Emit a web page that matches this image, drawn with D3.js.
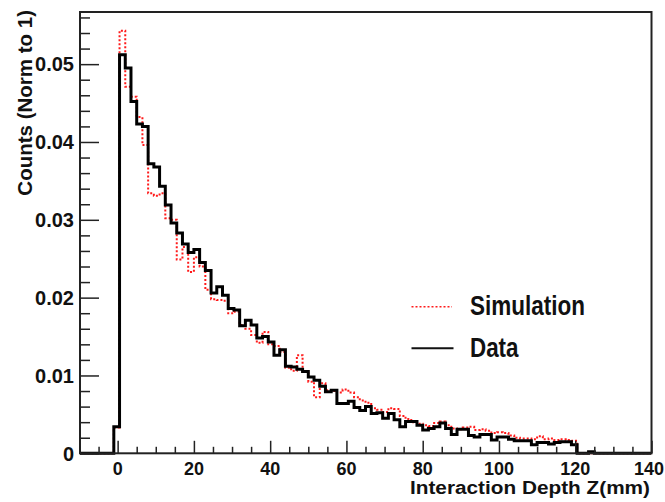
<!DOCTYPE html>
<html>
<head>
<meta charset="utf-8">
<script src="https://cdn.jsdelivr.net/npm/d3@7"></script>
<style>
  html, body { margin: 0; padding: 0; background: #fff; }
  #depth-chart text { font-family: "Liberation Sans", Arial, sans-serif; font-weight: bold; fill: #111; }
</style>
</head>
<body>
<div id="depth-chart"></div>
<script>
// histogram binning: 100 bins from -10 to 140 mm
var binLo = -10;
var binWidth = 1.5;
var nBins = 100;
var firstBin = 6; // first listed bin starts at -1 mm

var dataCounts = [
  0.0034, 0.0512, 0.0495, 0.0452, 0.0423, 0.0420, 0.0372, 0.0368, 0.0343, 0.0319,
  0.0296, 0.0283, 0.0269, 0.0258, 0.0262, 0.0245, 0.0235, 0.0206, 0.0214, 0.0203,
  0.0186, 0.0184, 0.0164, 0.0171, 0.0165, 0.0148, 0.0150, 0.0143, 0.0126, 0.0133,
  0.0112, 0.0111, 0.0108, 0.0105, 0.0098, 0.0094, 0.0086, 0.0079, 0.0081, 0.0064,
  0.0064, 0.0067, 0.0059, 0.0055, 0.0060, 0.0051, 0.0052, 0.0045, 0.0051, 0.0043,
  0.0034, 0.0041, 0.0041, 0.0036, 0.0030, 0.0032, 0.0034, 0.0039, 0.0032, 0.0024,
  0.0031, 0.0031, 0.0023, 0.0021, 0.0024, 0.0024, 0.0017, 0.0021, 0.0021, 0.0018,
  0.0016, 0.0016, 0.0016, 0.0011, 0.0014, 0.0014, 0.0012, 0.0014, 0.0015, 0.0015,
  0.0011, 0, 0, 0.0002
];

var simCounts = [
  0.0033, 0.0543, 0.0471, 0.0458, 0.0432, 0.0396, 0.0334, 0.0331, 0.0334, 0.0302,
  0.0300, 0.0249, 0.0265, 0.0233, 0.0252, 0.0240, 0.0210, 0.0198, 0.0197, 0.0196,
  0.0180, 0.0182, 0.0165, 0.0160, 0.0152, 0.0142, 0.0156, 0.0140, 0.0138, 0.0130,
  0.0110, 0.0106, 0.0126, 0.0105, 0.0092, 0.0072, 0.0090, 0.0081, 0.0080, 0.0078,
  0.0082, 0.0078, 0.0072, 0.0068, 0.0065, 0.0058, 0.0056, 0.0053, 0.0058, 0.0057,
  0.0048, 0.0044, 0.0040, 0.0038, 0.0036, 0.0035, 0.0039, 0.0041, 0.0036, 0.0032,
  0.0031, 0.0033, 0.0034, 0.0030, 0.0031, 0.0029, 0.0026, 0.0027, 0.0026, 0.0023,
  0.0020, 0.0019, 0.0019, 0.0018, 0.0022, 0.0018, 0.0019, 0.0017, 0.0018, 0.0017,
  0.0016, 0, 0, 0
];

var xMajor = [0, 20, 40, 60, 80, 100, 120, 140];
var yMajor = [0, 0.01, 0.02, 0.03, 0.04, 0.05];
var yTickLabels = ['0', '0.01', '0.02', '0.03', '0.04', '0.05'];
var xTitle = 'Interaction Depth Z(mm)';
var yTitle = 'Counts (Norm to 1)';
var legendNames = ['Simulation', 'Data'];

(function(d3) {
  'use strict';

  var width = 665, height = 502;
  var left = 80, right = 651.5, top = 12, bottom = 453.3;

  var svg = d3.select('#depth-chart')
    .append('svg')
    .attr('width', width)
    .attr('height', height);

  var x = d3.scaleLinear().domain([-10, 140]).range([79.5, right]);
  var y = d3.scaleLinear().domain([0, 0.0567]).range([bottom, top]);

  var toPoints = function(counts) {
    var pts = d3.range(nBins).map(function(k) {
      var i = k - firstBin;
      var v = (i >= 0 && i < counts.length) ? counts[i] : 0;
      return { z: binLo + k * binWidth, v: v };
    });
    pts.push({ z: binLo + nBins * binWidth, v: pts[pts.length - 1].v });
    return pts;
  };

  var line = d3.line()
    .curve(d3.curveStepAfter)
    .x(function(d) { return x(d.z); })
    .y(function(d) { return y(d.v); });

  svg.append('clipPath').attr('id', 'plot-clip')
    .append('rect')
    .attr('x', left).attr('y', top)
    .attr('width', right - left).attr('height', bottom - top + 2);

  // simulation underneath, data on top
  svg.append('path')
    .datum(toPoints(simCounts))
    .attr('clip-path', 'url(#plot-clip)')
    .attr('fill', 'none')
    .attr('stroke', '#ff1a1a')
    .attr('stroke-width', 2)
    .attr('stroke-dasharray', '2,2')
    .attr('d', line);

  svg.append('path')
    .datum(toPoints(dataCounts))
    .attr('clip-path', 'url(#plot-clip)')
    .attr('fill', 'none')
    .attr('stroke', '#000')
    .attr('stroke-width', 3)
    .attr('d', line);

  // frame
  svg.append('rect')
    .attr('x', left).attr('y', top)
    .attr('width', right - left).attr('height', bottom - top)
    .attr('fill', 'none')
    .attr('stroke', '#222')
    .attr('stroke-width', 2);

  // x axis ticks point up into the frame
  var xAxis = d3.axisTop(x)
    .tickValues(d3.range(-10, 141, 5))
    .tickFormat('')
    .tickSizeOuter(0)
    .tickSizeInner(0);
  var gx = svg.append('g').attr('transform', 'translate(0,' + bottom + ')').call(xAxis);
  gx.select('.domain').remove();
  gx.selectAll('.tick line')
    .attr('stroke', '#222')
    .attr('stroke-width', 1.5)
    .attr('y2', function(d) { return d % 20 === 0 ? -12.5 : -6.5; });

  svg.selectAll('.x-label').data(xMajor).enter().append('text')
    .attr('class', 'x-label')
    .attr('x', function(d) { return x(d); })
    .attr('y', 475)
    .attr('text-anchor', 'middle')
    .style('font-size', '18px')
    .text(function(d) { return d; })
    .each(function() {
      // keep the last label inside the window, as in the original
      var w = this.getComputedTextLength();
      var cx = +d3.select(this).attr('x');
      if (cx + w / 2 > width - 1) d3.select(this).attr('x', width - 1 - w / 2);
    });

  // y axis ticks point right into the frame
  var yAxis = d3.axisRight(y)
    .tickValues(d3.range(0, 0.0567, 0.002))
    .tickFormat('')
    .tickSizeOuter(0)
    .tickSizeInner(0);
  var gy = svg.append('g').attr('transform', 'translate(' + left + ',0)').call(yAxis);
  gy.select('.domain').remove();
  gy.selectAll('.tick line')
    .attr('stroke', '#222')
    .attr('stroke-width', 1.5)
    .attr('x2', function(d, i) { return i % 5 === 0 ? 19 : 10; });

  svg.selectAll('.y-label').data(yMajor).enter().append('text')
    .attr('class', 'y-label')
    .attr('x', 74)
    .attr('y', function(d) { return y(d); })
    .attr('dy', '0.36em')
    .attr('text-anchor', 'end')
    .style('font-size', '20px')
    .text(function(d, i) { return yTickLabels[i]; });

  // axis titles, ROOT style: flush with the far end of each axis
  svg.append('text')
    .attr('x', 650)
    .attr('y', 494)
    .attr('text-anchor', 'end')
    .attr('textLength', 240)
    .attr('lengthAdjust', 'spacingAndGlyphs')
    .style('font-size', '17.5px')
    .text(xTitle);

  svg.append('text')
    .attr('transform', 'translate(31.5,10) rotate(-90)')
    .attr('text-anchor', 'end')
    .style('font-size', '20.5px')
    .text(yTitle);

  // legend
  var legend = svg.append('g').attr('class', 'legend');
  var legendY = [306.7, 348.3];
  var legendLen = [115, 48.5];

  legend.append('line')
    .attr('x1', 411.5).attr('x2', 452)
    .attr('y1', legendY[0]).attr('y2', legendY[0])
    .attr('stroke', '#ff1a1a')
    .attr('stroke-width', 1.5)
    .attr('stroke-dasharray', '2,2');

  legend.append('line')
    .attr('x1', 411.5).attr('x2', 453.5)
    .attr('y1', legendY[1]).attr('y2', legendY[1])
    .attr('stroke', '#111')
    .attr('stroke-width', 2);

  legend.selectAll('text').data(legendNames).enter().append('text')
    .attr('x', 470)
    .attr('y', function(d, i) { return legendY[i] + 8.5; })
    .attr('textLength', function(d, i) { return legendLen[i]; })
    .attr('lengthAdjust', 'spacingAndGlyphs')
    .style('font-size', '27px')
    .text(function(d) { return d; });
}(d3));
</script>
</body>
</html>
